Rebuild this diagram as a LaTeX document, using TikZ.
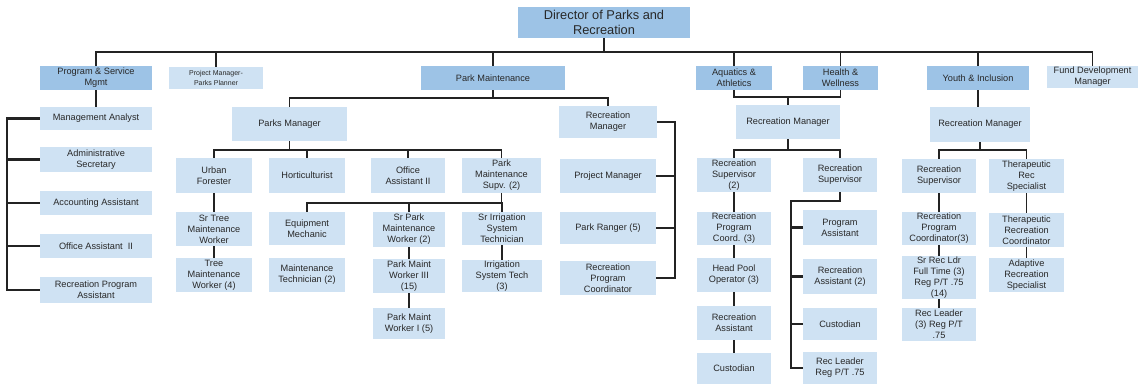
\documentclass[tikz,border=0pt]{standalone}
\usepackage{fontspec}
\setmainfont{Liberation Sans}
\definecolor{boxdark}{RGB}{157,195,230}
\definecolor{boxlight}{RGB}{207,226,243}
\definecolor{inkgray}{RGB}{40,40,40}
\definecolor{linegray}{RGB}{35,35,35}
\tikzset{
  unit/.style={rectangle, inner sep=0pt, align=center, text=inkgray,
    font=\fontsize{9.2}{11}\selectfont},
  light/.style={unit, fill=boxlight},
  dark/.style={unit, fill=boxdark},
  conn/.style={draw=linegray, line width=1.8pt},
  bracket/.style={draw=linegray, line width=2.4pt},
}
% place a box by its corners: \cbox[style]{name}{x1}{y1}{x2}{y2}{text}
\newcommand{\cbox}[7][light]{%
  \node[#1, minimum width={(#5)-(#3)}, minimum height={(#6)-(#4)}]
    (#2) at ({((#3)+(#5))/2},{((#4)+(#6))/2}) {#7};}
\begin{document}
\begin{tikzpicture}[x=1pt,y=-1pt]
\useasboundingbox (0,0) rectangle (1139,386);

% ---------- top level ----------
\cbox[dark, font=\fontsize{12.8}{15}\selectfont]{dir}{518}{7}{690}{38}{Director of Parks and\\Recreation}
\cbox[dark]{psm}{40}{66}{152}{90}{Program \& Service\\Mgmt}
\cbox[light, font=\fontsize{7}{9.5}\selectfont]{pmp}{169}{67}{263}{89}{Project Manager-\\Parks Planner}
\cbox[dark]{pm}{421}{66}{565}{90}{Park Maintenance}
\cbox[dark]{aqa}{696}{66}{772}{90}{Aquatics \&\\Athletics}
\cbox[dark]{hw}{803}{66}{878}{90}{Health \&\\Wellness}
\cbox[dark]{yi}{927}{66}{1029}{90}{Youth \& Inclusion}
\cbox{fdm}{1047}{66}{1138}{88}{Fund Development\\Manager}

% ---------- program & service ----------
\cbox{ma}{40}{107}{152}{130}{Management Analyst}
\cbox{as}{40}{147}{152}{172}{Administrative\\Secretary}
\cbox{acc}{40}{191}{152}{215}{Accounting Assistant}
\cbox{oa}{40}{234}{152}{258}{Office Assistant\ \ II}
\cbox{rpa}{40}{277}{152}{303}{Recreation Program\\Assistant}

% ---------- park maintenance ----------
\cbox{pkm}{232}{107}{347}{141}{Parks Manager}
\cbox{rml}{559}{106}{657}{138}{Recreation\\Manager}
\cbox{prj}{560}{159}{656}{193}{Project Manager}
\cbox{pr}{560}{212}{656}{244}{Park Ranger (5)}
\cbox{rpc}{560}{261}{656}{295}{Recreation\\Program\\Coordinator}

\cbox{uf}{176}{158}{252}{193}{Urban\\Forester}
\cbox{hort}{269}{158}{345}{193}{Horticulturist}
\cbox{oa2}{371}{158}{445}{193}{Office\\Assistant II}
\cbox{pms}{462}{158}{541}{193}{Park\\Maintenance\\Supv. (2)}
\cbox{str}{176}{212}{252}{246}{Sr Tree\\Maintenance\\Worker}
\cbox{tmw}{176}{258}{252}{292}{Tree\\Maintenance\\Worker (4)}
\cbox{em}{269}{212}{345}{245}{Equipment\\Mechanic}
\cbox{mt}{269}{258}{345}{292}{Maintenance\\Technician (2)}
\cbox{spw}{373}{212}{445}{247}{Sr Park\\Maintenance\\Worker (2)}
\cbox{pmw3}{373}{259}{445}{293}{Park Maint\\Worker III\\(15)}
\cbox{pmw1}{373}{308}{445}{339}{Park Maint\\Worker I (5)}
\cbox{sis}{462}{212}{542}{245}{Sr Irrigation\\System\\Technician}
\cbox{ist}{462}{260}{542}{292}{Irrigation\\System Tech\\(3)}

% ---------- aquatics / health ----------
\cbox{rmc}{736}{105}{840}{139}{Recreation Manager}
\cbox{rs2}{697}{158}{771}{192}{Recreation\\Supervisor\\(2)}
\cbox{rsr}{803}{158}{877}{192}{Recreation\\Supervisor}
\cbox{rpc3}{697}{212}{771}{245}{Recreation\\Program\\Coord. (3)}
\cbox{hpo}{697}{258}{771}{292}{Head Pool\\Operator (3)}
\cbox{ra}{697}{306}{771}{340}{Recreation\\Assistant}
\cbox{cu1}{697}{353}{771}{384}{Custodian}
\cbox{pa}{803}{210}{877}{245}{Program\\Assistant}
\cbox{ra2}{803}{259}{877}{294}{Recreation\\Assistant (2)}
\cbox{cu2}{803}{308}{877}{340}{Custodian}
\cbox{rl}{803}{352}{877}{384}{Rec Leader\\Reg P/T .75}

% ---------- youth & inclusion ----------
\cbox{rmy}{930}{107}{1030}{142}{Recreation Manager}
\cbox{rsy}{902}{159}{976}{193}{Recreation\\Supervisor}
\cbox{trs}{989}{159}{1064}{193}{Therapeutic\\Rec\\Specialist}
\cbox{rpcy}{902}{212}{976}{245}{Recreation\\Program\\Coordinator(3)}
\cbox{srl}{902}{256}{976}{299}{Sr Rec Ldr\\Full Time (3)\\Reg P/T .75\\(14)}
\cbox{rly}{902}{308}{976}{341}{Rec Leader\\(3) Reg P/T\\.75}
\cbox{trc}{989}{213}{1064}{247}{Therapeutic\\Recreation\\Coordinator}
\cbox{ars}{989}{258}{1064}{292}{Adaptive\\Recreation\\Specialist}

% ---------- bus levels ----------
\coordinate (tb) at (0,52);
\coordinate (pb) at (0,98);
\coordinate (kb) at (0,150);
\coordinate (sb) at (0,203);
\coordinate (ab) at (0,97);
\coordinate (cb) at (0,150);
\coordinate (yb) at (0,150);
\coordinate (lb) at (7,0);
\coordinate (rb) at (675,0);
\coordinate (rr) at (791,201);

% director bus
\draw[conn] (psm.north) |- (tb -| fdm.north) -- (fdm.north);
\draw[conn] (dir.south) -- (dir.south |- tb);
\foreach \n in {pmp,pm,aqa,hw,yi}
  \draw[conn] (\n.north) -- (\n.north |- tb);

% program & service
\draw[conn] (psm.south) -- (ma.north);
\draw[bracket] (ma.west) -| (lb |- rpa.west) -- (rpa.west);
\foreach \n in {as,acc,oa}
  \draw[bracket] (lb |- \n.west) -- (\n.west);

% park maintenance
\draw[conn] (pkm.north) |- (pb -| rml.north) -- (rml.north);
\draw[conn] (pm.south) -- (pm.south |- pb);
\draw[bracket] (rml.east) -| (rb |- rpc.east) -- (rpc.east);
\foreach \n in {prj,pr}
  \draw[bracket] (rb |- \n.east) -- (\n.east);

\draw[conn] (uf.north) |- (kb -| pms.north) -- (pms.north);
\draw[conn] (pkm.south) -- (pkm.south |- kb);
\foreach \n in {hort,oa2}
  \draw[conn] (\n.north) -- (\n.north |- kb);

\draw[conn] (em.north) |- (sb -| sis.north) -- (sis.north);
\draw[conn] (pms.south) -- (pms.south |- sb);
\draw[conn] (spw.north) -- (spw.north |- sb);

\draw[conn] (uf.south) -- (str.north);
\draw[conn] (str.south) -- (tmw.north);
\draw[conn] (spw.south) -- (pmw3.north);
\draw[conn] (pmw3.south) -- (pmw1.north);
\draw[conn] (sis.south) -- (ist.north);

% aquatics / health
\draw[conn] (aqa.south) |- (ab -| hw.south) -- (hw.south);
\draw[conn] (rmc.north) -- (rmc.north |- ab);
\draw[conn] (rs2.north) |- (cb -| rsr.north) -- (rsr.north);
\draw[conn] (rmc.south) -- (rmc.south |- cb);
\draw[conn] (rs2.south) -- (rpc3.north);
\draw[conn] (rpc3.south) -- (hpo.north);
\draw[conn] (hpo.south) -- (ra.north);
\draw[conn] (ra.south) -- (cu1.north);
\draw[bracket] (rsr.south) |- (rr) |- (rl.west);
\foreach \n in {pa,ra2,cu2}
  \draw[bracket] (rr |- \n.west) -- (\n.west);

% youth & inclusion
\draw[conn] (yi.south) -- (yi.south |- rmy.north);
\draw[conn] (rsy.north) |- (yb -| trs.north) -- (trs.north);
\draw[conn] (rmy.south) -- (rmy.south |- yb);
\draw[conn] (rsy.south) -- (rpcy.north);
\draw[conn] (rpcy.south) -- (srl.north);
\draw[conn] (srl.south) -- (rly.north);
\draw[conn] (trs.south) -- (trc.north);
\draw[conn] (trc.south) -- (ars.north);
\end{tikzpicture}
\end{document}
